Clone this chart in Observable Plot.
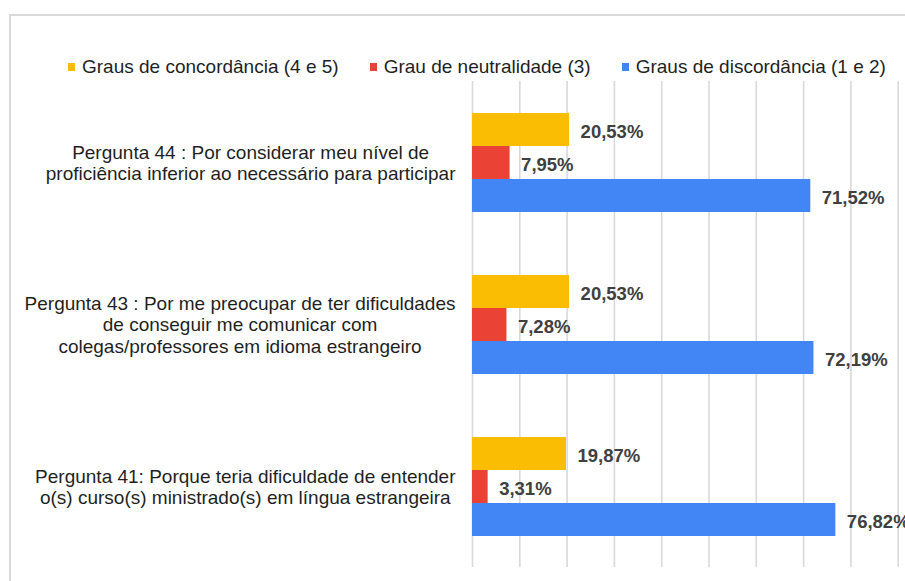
<!DOCTYPE html>
<html>
<head>
<meta charset="utf-8">
<script src="https://cdn.jsdelivr.net/npm/d3@7"></script>
<script src="https://cdn.jsdelivr.net/npm/@observablehq/plot@0.6"></script>
<style>
  html, body { margin: 0; padding: 0; background: #fff; }
  body { width: 905px; height: 581px; overflow: hidden; position: relative; font-family: "Liberation Sans", Arial, sans-serif; }
  #frame { position: absolute; left: 9px; top: 14px; width: 1000px; height: 700px; border-left: 2px solid #d9d9d9; border-top: 2px solid #d9d9d9; box-sizing: border-box; }
  #legend { position: absolute; left: 68px; top: 56px; display: flex; gap: 31px; font-size: 19px; color: #1f1f1f; line-height: 22px; white-space: nowrap; }
  #legend .item { display: flex; align-items: center; gap: 7px; }
  #legend .sw { width: 7px; height: 8px; display: inline-block; }
  #chart { position: absolute; left: 0; top: 75px; width: 975px; }
  #chart svg { max-width: none !important; }
</style>
</head>
<body>
<div id="frame"></div>
<div id="legend"></div>
<div id="chart"></div>
<script>
// ---- data ----
const questions = ["Pergunta 44", "Pergunta 43", "Pergunta 41"];
const questionLines = [
  ["Pergunta 44 : Por considerar meu nível de", "proficiência inferior ao necessário para participar"],
  ["Pergunta 43 : Por me preocupar de ter dificuldades", "de conseguir me comunicar com", "colegas/professores em idioma estrangeiro"],
  ["Pergunta 41: Porque teria dificuldade de entender", "o(s) curso(s) ministrado(s) em língua estrangeira"]
];
const seriesNames = ["Graus de concordância (4 e 5)", "Grau de neutralidade (3)", "Graus de discordância (1 e 2)"];
const concordancia = [20.53, 20.53, 19.87];
const neutralidade = [7.95, 7.28, 3.31];
const discordancia = [71.52, 72.19, 76.82];
const seriesColors = ["#FBBC04", "#EA4335", "#4285F4"];

// ---- build table ----
const seriesValues = [concordancia, neutralidade, discordancia];
const data = [];
questions.forEach((q, i) => {
  seriesNames.forEach((s, j) => data.push({question: q, series: s, value: seriesValues[j][i]}));
});
const fmt = v => v.toFixed(2).replace(".", ",") + "%";

const FONT = '"Liberation Sans", Arial, sans-serif';
const catSize = 19;
const canvas = document.createElement("canvas");
const ctx = canvas.getContext("2d");
ctx.font = `${catSize}px "Liberation Sans"`;
const maxW = lines => Math.max(...lines.map(l => ctx.measureText(l).width));

// ---- legend ----
const legend = document.getElementById("legend");
seriesNames.forEach((s, j) => {
  const it = document.createElement("span");
  it.className = "item";
  const sw = document.createElement("span");
  sw.className = "sw";
  sw.style.background = seriesColors[j];
  it.appendChild(sw);
  it.appendChild(document.createTextNode(s));
  legend.appendChild(it);
});

// ---- chart ----
const labelMarks = questions.map((q, i) => Plot.text([q], {
  fy: d => d,
  frameAnchor: "left",
  text: () => questionLines[i].join("\n"),
  textAnchor: "middle",
  lineAnchor: "middle",
  lineHeight: 1.14,
  fontSize: catSize,
  fill: "#1f1f1f",
  dx: -(17 + maxW(questionLines[i]) / 2)
}));

const chart = Plot.plot({
  width: 975,
  height: 506,
  marginLeft: 472,
  marginRight: 30,
  marginTop: 5,
  marginBottom: 13,
  style: {fontFamily: FONT, background: "transparent", overflow: "visible"},
  x: {domain: [0, 100], axis: null},
  y: {domain: seriesNames, axis: null, paddingInner: 0, paddingOuter: 0.92},
  fy: {domain: questions, axis: null, padding: 0},
  color: {domain: seriesNames, range: seriesColors},
  marks: [
    Plot.gridX({ticks: d3.range(0, 101, 10), stroke: "#d9d9d9", strokeOpacity: 1, strokeWidth: 1.6}),
    Plot.barX(data, {x: "value", y: "series", fy: "question", fill: "series"}),
    Plot.text(data, {x: "value", y: "series", fy: "question", text: d => fmt(d.value),
      textAnchor: "start", dx: 11, dy: 2, fontSize: 18.5, fontWeight: "bold", fill: "#404040"}),
    ...labelMarks
  ]
});
document.getElementById("chart").appendChild(chart);
</script>
</body>
</html>
